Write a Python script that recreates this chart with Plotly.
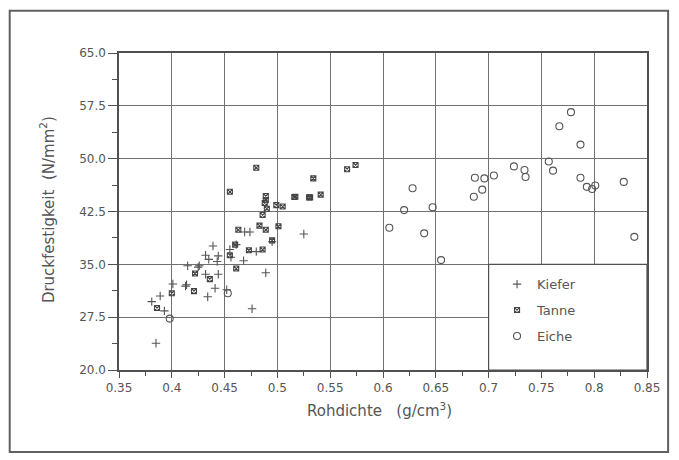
import plotly.graph_objects as go

# Kiefer (+)
kiefer_x = [0.381, 0.389, 0.393, 0.385, 0.401, 0.413, 0.415, 0.426, 0.432, 0.435, 0.439,
            0.444, 0.443, 0.432, 0.444, 0.441, 0.434, 0.452, 0.476, 0.489, 0.525, 0.455,
            0.468, 0.480, 0.495, 0.469, 0.474, 0.461, 0.456, 0.414, 0.425]
kiefer_y = [29.7, 30.5, 28.4, 23.8, 32.2, 31.9, 34.8, 34.8, 36.3, 35.7, 37.6,
            36.2, 35.4, 33.6, 33.6, 31.6, 30.4, 31.4, 28.7, 33.8, 39.3, 37.1,
            35.5, 36.8, 38.2, 39.6, 39.6, 37.8, 36.0, 32.1, 34.6]

# Tanne (box x)
tanne_x = [0.386, 0.400, 0.422, 0.436, 0.421, 0.455, 0.460, 0.461, 0.473, 0.486, 0.501,
           0.489, 0.483, 0.486, 0.488, 0.489, 0.489, 0.480, 0.455, 0.499, 0.505, 0.517,
           0.530, 0.534, 0.541, 0.566, 0.574, 0.495, 0.463, 0.490, 0.516, 0.531]
tanne_y = [28.8, 30.9, 33.7, 32.9, 31.2, 36.3, 37.8, 34.4, 37.0, 37.1, 40.4,
           39.9, 40.5, 42.0, 43.7, 44.1, 44.7, 48.7, 45.3, 43.4, 43.2, 44.6,
           44.5, 47.2, 44.9, 48.5, 49.1, 38.4, 39.9, 42.9, 44.55, 44.5]

# Eiche (circle)
eiche_x = [0.778, 0.767, 0.787, 0.757, 0.761, 0.724, 0.734, 0.735, 0.705, 0.696, 0.687,
           0.694, 0.686, 0.787, 0.793, 0.798, 0.801, 0.828, 0.628, 0.620, 0.647, 0.606,
           0.639, 0.838, 0.655, 0.453, 0.398]
eiche_y = [56.6, 54.6, 52.0, 49.6, 48.3, 48.9, 48.4, 47.4, 47.6, 47.2, 47.3,
           45.6, 44.6, 47.3, 46.0, 45.7, 46.2, 46.7, 45.8, 42.7, 43.1, 40.2,
           39.4, 38.9, 35.6, 30.9, 27.3]

x_ticks = [0.35, 0.4, 0.45, 0.5, 0.55, 0.6, 0.65, 0.7, 0.75, 0.8, 0.85]
y_ticks = [20.0, 27.5, 35.0, 42.5, 50.0, 57.5, 65.0]

ink = "#555555"
font = "DejaVu Sans"

fig = go.Figure()
fig.add_trace(go.Scatter(x=kiefer_x, y=kiefer_y, mode="markers", name="Kiefer",
                         legendgroup="k",
                         marker=dict(symbol="cross-thin-open", size=6,
                                     line=dict(color=ink, width=1.1), color=ink)))
fig.add_trace(go.Scatter(x=tanne_x, y=tanne_y, mode="markers", name="Tanne",
                         legendgroup="t",
                         marker=dict(symbol="square-x-open", size=5,
                                     line=dict(color="#444444", width=1.1), color="#444444")))
fig.add_trace(go.Scatter(x=eiche_x, y=eiche_y, mode="markers", name="Eiche",
                         legendgroup="e",
                         marker=dict(symbol="circle-open", size=7,
                                     line=dict(color=ink, width=1.1), color=ink)))

axis_common = dict(showgrid=True, gridcolor="#707070", gridwidth=1.2,
                   showline=True, linecolor="#505050", linewidth=1.5, mirror=True,
                   ticks="outside", tickcolor="#505050", tickwidth=1.2,
                   tickfont=dict(family=font, size=12, color=ink),
                   zeroline=False)

fig.update_xaxes(range=[0.35, 0.85], tickvals=x_ticks, ticklen=6,
                 ticktext=[f"{v:g}" for v in x_ticks],
                 minor=dict(ticks="outside", ticklen=4, tickcolor="#505050",
                            dtick=0.025, tick0=0.35, showgrid=False),
                 **axis_common)
fig.update_yaxes(range=[20, 65], tickvals=y_ticks, ticklen=9,
                 ticktext=[f"{v:.1f}" for v in y_ticks],
                 minor=dict(ticks="outside", ticklen=5, tickcolor="#505050",
                            dtick=3.75, tick0=20, showgrid=False),
                 **axis_common)

# legend box (white, covering grid)
fig.add_shape(type="rect", xref="x", yref="y", x0=0.7, x1=0.85, y0=20, y1=35,
              fillcolor="white", line=dict(color="#505050", width=1.2), layer="between")
# outer page frame
fig.add_shape(type="rect", xref="paper", yref="paper", x0=-0.207, x1=1.040,
              y0=-0.259, y1=1.133, line=dict(color="#606060", width=2), layer="below")

fig.add_annotation(text="Druckfestigkeit  (N/mm<sup>2</sup>)", xref="paper", yref="paper",
                   x=-0.136, y=0.505, textangle=-90, showarrow=False,
                   xanchor="center", yanchor="middle",
                   font=dict(family=font, size=15, color=ink))
fig.add_annotation(text="Rohdichte   (g/cm<sup>3</sup>)", xref="paper", yref="paper",
                   x=0.494, y=-0.126, showarrow=False,
                   xanchor="center", yanchor="middle",
                   font=dict(family=font, size=15, color=ink))

fig.update_layout(width=679, height=460,
                  margin=dict(l=119, r=32, t=53, b=90),
                  paper_bgcolor="white", plot_bgcolor="white",
                  legend=dict(x=0.716, y=0.318, xanchor="left", yanchor="top",
                              bgcolor="rgba(0,0,0,0)", borderwidth=0,
                              tracegroupgap=6, itemwidth=30,
                              font=dict(family=font, size=13, color=ink)),
                  showlegend=True)

fig.write_html("out.html")
